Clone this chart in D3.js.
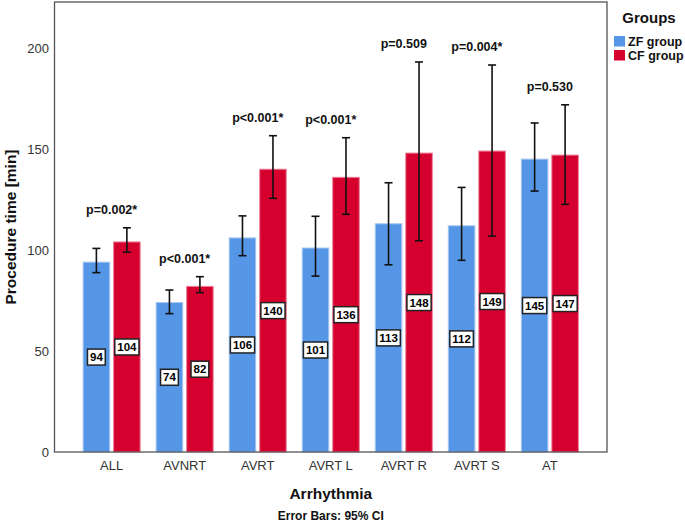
<!DOCTYPE html>
<html>
<head>
<meta charset="utf-8">
<script src="https://cdn.jsdelivr.net/npm/d3@7/dist/d3.min.js"></script>
<style>
  html, body { margin: 0; padding: 0; background: #fff; }
  svg { display: block; font-family: "Liberation Sans", Arial, sans-serif; }
</style>
</head>
<body>
<svg id="chart" width="685" height="524"></svg>
<script>
// ---- data ----
const categories = ["ALL", "AVNRT", "AVRT", "AVRT L", "AVRT R", "AVRT S", "AT"];
const groups = ["ZF group", "CF group"];
const zfMean = [94, 74, 106, 101, 113, 112, 145];
const cfMean = [104, 82, 140, 136, 148, 149, 147];
const zfLower = [88.8, 68.5, 97.2, 87.1, 92.7, 94.9, 129.2];
const zfUpper = [100.8, 80.2, 116.9, 116.7, 133.3, 131.0, 162.9];
const cfLower = [98.9, 78.9, 125.6, 117.7, 104.6, 106.9, 122.6];
const cfUpper = [111.0, 86.8, 156.6, 155.6, 193.1, 191.6, 171.9];
const pValues = ["p=0.002*", "p<0.001*", "p<0.001*", "p<0.001*", "p=0.509", "p=0.004*", "p=0.530"];
const yTicks = [0, 50, 100, 150, 200];

// ---- layout ----
const svg = d3.select("#chart");
const L = 54.5, R = 607, T = 2, B = 452;
const colors = { "ZF group": "#5597e6", "CF group": "#d6002e" };
const strokes = { "ZF group": "#a6c6f1", "CF group": "#ec7f99" };

const y = d3.scaleLinear().domain([0, 222.8]).range([B, T]);
const x0 = d3.scaleBand().domain(categories).range([L, R])
  .paddingInner(0.2195).paddingOuter(0.392);
const x1 = d3.scaleBand().domain(groups).range([0, x0.bandwidth()]).paddingInner(0.13);

const rows = categories.map((c, i) => ({
  cat: c, p: pValues[i],
  vals: [
    { g: groups[0], m: zfMean[i], lo: zfLower[i], hi: zfUpper[i] },
    { g: groups[1], m: cfMean[i], lo: cfLower[i], hi: cfUpper[i] }
  ]
}));

// bars
const gCat = svg.append("g").selectAll("g").data(rows).join("g")
  .attr("transform", d => `translate(${x0(d.cat)},0)`);

gCat.selectAll("rect.bar").data(d => d.vals).join("rect")
  .attr("class", "bar")
  .attr("x", d => x1(d.g))
  .attr("y", d => y(d.m))
  .attr("width", x1.bandwidth())
  .attr("height", d => y(0) - y(d.m))
  .attr("fill", d => colors[d.g])
  .attr("stroke", d => strokes[d.g])
  .attr("stroke-width", 1);

// error bars
const eb = gCat.selectAll("g.eb").data(d => d.vals).join("g").attr("class", "eb")
  .attr("transform", d => `translate(${x1(d.g) + x1.bandwidth() / 2},0)`);
eb.append("line").attr("x1", 0).attr("x2", 0)
  .attr("y1", d => y(d.lo)).attr("y2", d => y(d.hi))
  .attr("stroke", "#111").attr("stroke-width", 1.6);
eb.append("line").attr("x1", -4).attr("x2", 4)
  .attr("y1", d => y(d.hi)).attr("y2", d => y(d.hi))
  .attr("stroke", "#111").attr("stroke-width", 1.6);
eb.append("line").attr("x1", -4).attr("x2", 4)
  .attr("y1", d => y(d.lo)).attr("y2", d => y(d.lo))
  .attr("stroke", "#111").attr("stroke-width", 1.6);

// value labels
const lab = gCat.selectAll("g.lab").data(d => d.vals).join("g").attr("class", "lab")
  .attr("transform", d => `translate(${x1(d.g) + x1.bandwidth() / 2},${y(d.m / 2)})`);
lab.each(function(d) {
  const g = d3.select(this);
  const t = g.append("text").text(d.m)
    .attr("text-anchor", "middle").attr("dominant-baseline", "central")
    .attr("font-size", 11.5).attr("font-weight", "bold").attr("fill", "#000");
  const w = t.node().getComputedTextLength();
  g.insert("rect", "text")
    .attr("x", -w / 2 - 2.5).attr("y", -8).attr("width", w + 5).attr("height", 16)
    .attr("fill", "#fff").attr("stroke", "#222").attr("stroke-width", 1.5);
});

// p-values
gCat.append("text")
  .attr("x", x0.bandwidth() / 2)
  .attr("y", d => y(d3.max(d.vals, v => v.hi)) - 18)
  .attr("text-anchor", "middle").attr("dominant-baseline", "central")
  .attr("font-size", 12.5).attr("font-weight", "bold").attr("fill", "#111")
  .text(d => d.p);

// frame
svg.append("rect").attr("x", L).attr("y", T).attr("width", R - L).attr("height", B - T)
  .attr("fill", "none").attr("stroke", "#555").attr("stroke-width", 1.3);

// y axis
const yAxis = d3.axisLeft(y).tickValues(yTicks).tickSize(0).tickPadding(5.5);
const ya = svg.append("g").attr("transform", `translate(${L},0)`).call(yAxis);
ya.select(".domain").remove();
ya.selectAll("text").attr("font-size", 13).attr("fill", "#333")
  .attr("font-family", "'Liberation Sans', Arial, sans-serif");

// x axis
const xAxis = d3.axisBottom(x0).tickSize(0).tickPadding(9);
const xa = svg.append("g").attr("transform", `translate(0,${B})`).call(xAxis);
xa.select(".domain").remove();
xa.selectAll("text").attr("font-size", 13).attr("fill", "#333")
  .attr("font-family", "'Liberation Sans', Arial, sans-serif");

// axis titles
svg.append("text").attr("x", (L + R) / 2).attr("y", 493)
  .attr("text-anchor", "middle").attr("dominant-baseline", "central")
  .attr("font-size", 15.5).attr("font-weight", "bold").attr("fill", "#111")
  .text("Arrhythmia");
svg.append("text").attr("x", (L + R) / 2).attr("y", 516)
  .attr("text-anchor", "middle").attr("dominant-baseline", "central")
  .attr("font-size", 12).attr("font-weight", "bold").attr("fill", "#111")
  .text("Error Bars: 95% CI");
svg.append("text")
  .attr("transform", `translate(10,${(T + B) / 2}) rotate(-90)`)
  .attr("text-anchor", "middle").attr("dominant-baseline", "central")
  .attr("font-size", 15.5).attr("font-weight", "bold").attr("fill", "#111")
  .text("Procedure time [min]");

// legend
svg.append("text").attr("x", 649).attr("y", 17.5)
  .attr("text-anchor", "middle").attr("dominant-baseline", "central")
  .attr("font-size", 15).attr("font-weight", "bold").attr("fill", "#111")
  .text("Groups");
const lg = svg.append("g").selectAll("g").data(groups).join("g")
  .attr("transform", (d, i) => `translate(614,${36 + i * 14})`);
lg.append("rect").attr("width", 11).attr("height", 10.5)
  .attr("fill", d => colors[d]);
lg.append("text").attr("x", 14).attr("y", 5.5)
  .attr("dominant-baseline", "central")
  .attr("font-size", 12.5).attr("font-weight", "bold").attr("fill", "#111")
  .text(d => d);
</script>
</body>
</html>
